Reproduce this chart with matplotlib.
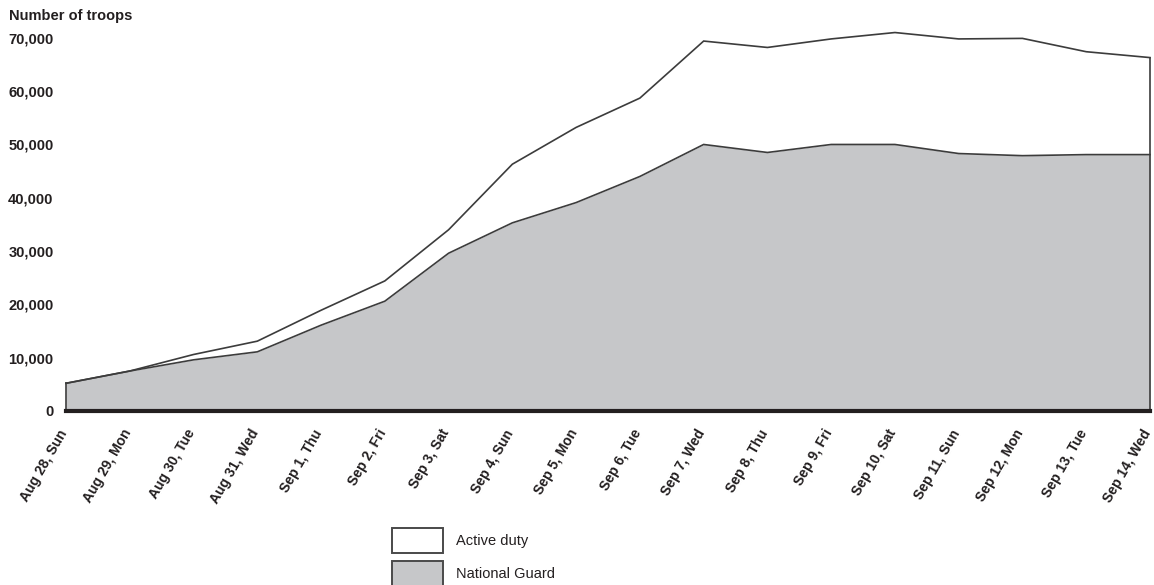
import numpy as np
import matplotlib
matplotlib.use("Agg")
import matplotlib.pyplot as plt
from matplotlib.patches import Rectangle
from matplotlib.transforms import ScaledTranslation

plt.rcParams['font.family'] = ['Liberation Sans', 'DejaVu Sans']

dates = ['Aug 28, Sun', 'Aug 29, Mon', 'Aug 30, Tue', 'Aug 31, Wed', 'Sep 1, Thu',
         'Sep 2, Fri', 'Sep 3, Sat', 'Sep 4, Sun', 'Sep 5, Mon', 'Sep 6, Tue',
         'Sep 7, Wed', 'Sep 8, Thu', 'Sep 9, Fri', 'Sep 10, Sat', 'Sep 11, Sun',
         'Sep 12, Mon', 'Sep 13, Tue', 'Sep 14, Wed']
national_guard = [5200, 7500, 9600, 11100, 16100, 20600, 29600, 35300, 39100, 44000,
                  50000, 48500, 50000, 50000, 48300, 47900, 48100, 48100]
active_duty = [0, 0, 1000, 2000, 2800, 3800, 4400, 11000, 14100, 14700,
               19400, 19700, 19800, 21000, 21500, 22000, 19300, 18200]
yticks = [0, 10000, 20000, 30000, 40000, 50000, 60000, 70000]
series_names = ['Active duty', 'National Guard']

W, H = 1154, 585
fig = plt.figure(figsize=(W / 100, H / 100), dpi=100)
ax = fig.add_axes([66 / W, 1 - 411 / H, (1150 - 66) / W, (411 - 27.2) / H])

x = np.arange(len(dates))
ng = np.array(national_guard)
total = ng + np.array(active_duty)

gray = '#c6c7c9'
edge = '#3c3c3c'
txt = '#231f20'
ax.fill_between(x, 0, ng, color=gray, lw=0)
ax.fill_between(x, ng, total, color='white', lw=0)
ax.plot(x, ng, color=edge, lw=1.2, clip_on=False, solid_joinstyle='miter')
ax.plot(x, total, color=edge, lw=1.2, clip_on=False, solid_joinstyle='miter')
ax.plot([x[0], x[0]], [0, total[0]], color=edge, lw=1.2, clip_on=False)
ax.plot([x[-1], x[-1]], [0, total[-1]], color=edge, lw=1.2, clip_on=False)
ax.axhline(0, color=txt, lw=3.0, clip_on=False, zorder=5)

ax.set_xlim(0, len(dates) - 1)
ax.set_ylim(0, 72000)
for s in ax.spines.values():
    s.set_visible(False)
ax.set_yticks(yticks)
ax.set_yticklabels([f'{v:,}' for v in yticks], fontsize=10.5, fontweight='bold', color=txt)
ax.tick_params(axis='y', length=0, pad=9)
ax.set_xticks(x)
ax.set_xticklabels(dates, rotation=60, ha='right', va='center', rotation_mode='anchor',
                   fontsize=10, fontweight='bold', color=txt)
ax.tick_params(axis='x', length=0, pad=14)
shift = ScaledTranslation(-2 / 100, 0, fig.dpi_scale_trans)
for lab in ax.get_xticklabels():
    lab.set_transform(lab.get_transform() + shift)

fig.text(9 / W, 1 - 16 / H, 'Number of troops', fontsize=10.5, fontweight='bold',
         color=txt, va='center', ha='left')

# legend
for i, (name, col) in enumerate(zip(series_names, ['white', gray])):
    y0 = 528 + i * 32.5
    fig.add_artist(Rectangle((392 / W, 1 - (y0 + 25) / H), 51 / W, 25 / H,
                             transform=fig.transFigure, facecolor=col,
                             edgecolor='#4a4a4a', lw=1.4))
    fig.text(456 / W, 1 - (y0 + 13) / H, name, fontsize=10.5, color=txt,
             va='center', ha='left')

fig.savefig('out.png', dpi=100)
